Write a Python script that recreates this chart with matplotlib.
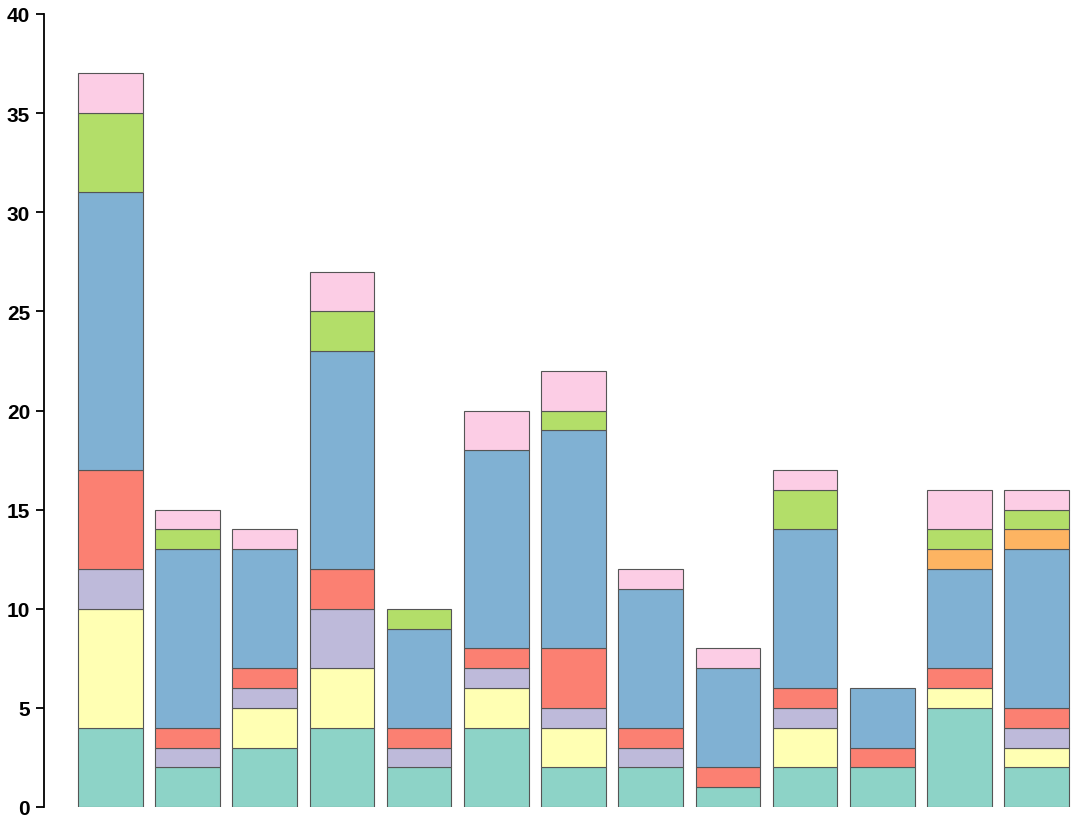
import matplotlib.pyplot as plt
import numpy as np

# stacked segments per bar, bottom to top
teal = [4, 2, 3, 4, 2, 4, 2, 2, 1, 2, 2, 5, 2]
yellow = [6, 0, 2, 3, 0, 2, 2, 0, 0, 2, 0, 1, 1]
lavender = [2, 1, 1, 3, 1, 1, 1, 1, 0, 1, 0, 0, 1]
salmon = [5, 1, 1, 2, 1, 1, 3, 1, 1, 1, 1, 1, 1]
blue = [14, 9, 6, 11, 5, 10, 11, 7, 5, 8, 3, 5, 8]
orange = [0, 0, 0, 0, 0, 0, 0, 0, 0, 0, 0, 1, 1]
green = [4, 1, 0, 2, 1, 0, 1, 0, 0, 2, 0, 1, 1]
pink = [2, 1, 1, 2, 0, 2, 2, 1, 1, 1, 0, 2, 1]

series = [teal, yellow, lavender, salmon, blue, orange, green, pink]
colors = ["#8dd3c7", "#ffffb3", "#bebada", "#fb8072",
          "#80b1d3", "#fdb462", "#b3de69", "#fccde5"]

W, H = 1080, 829
fig = plt.figure(figsize=(W / 100, H / 100), dpi=100)
ax = fig.add_axes([44 / W, 21 / H, (1076 - 44) / W, (808 - 15) / H])

x = np.arange(len(teal))
bottom = np.zeros(len(teal))
for vals, col in zip(series, colors):
    vals = np.array(vals, dtype=float)
    mask = vals > 0
    ax.bar(x[mask], vals[mask], bottom=bottom[mask], width=0.835,
           color=col, edgecolor="#555555", linewidth=0.8)
    bottom += vals

step = 77.2
ax.set_xlim(-(110.3 - 44) / step, 12 + (1076 - 1036.7) / step)
ax.set_ylim(0, 40)

for s in ["top", "right", "bottom"]:
    ax.spines[s].set_visible(False)
ax.spines["left"].set_linewidth(1.3)
ax.set_xticks([])
ax.set_yticks(range(0, 41, 5))
ax.tick_params(axis="y", length=6, width=1.3, pad=4)
for lab in ax.get_yticklabels():
    lab.set_fontfamily("Liberation Sans")
    lab.set_fontweight("bold")
    lab.set_fontsize(15)

fig.savefig("out.png", dpi=100)
